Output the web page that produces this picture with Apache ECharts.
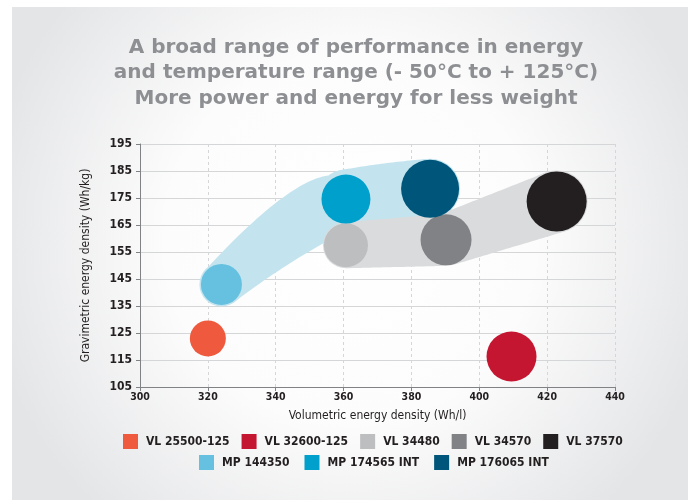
<!DOCTYPE html>
<html>
<head>
<meta charset="utf-8">
<script src="https://cdn.jsdelivr.net/npm/echarts@6/dist/echarts.min.js"></script>
<style>
  html, body { margin: 0; padding: 0; background: #ffffff; }
  #chart { width: 692px; height: 500px; }
</style>
</head>
<body>
<div id="chart"></div>
<script>
// ---- data ----
const products = ['VL 25500-125', 'VL 32600-125', 'VL 34480', 'VL 34570', 'VL 37570', 'MP 144350', 'MP 174565 INT', 'MP 176065 INT'];
const volumetric = [320, 409.5, 360.7, 390.2, 422.8, 324, 360.7, 385.5];      // Wh/l
const gravimetric = [123, 116.3, 157.5, 159.5, 173.7, 143, 174.6, 178.4];     // Wh/kg
const bubbleSize = [36, 50, 44, 51, 60, 41, 49, 58];                          // relative bubble size
const legendRow1 = ['VL 25500-125', 'VL 32600-125', 'VL 34480', 'VL 34570', 'VL 37570'];
const legendRow2 = ['MP 144350', 'MP 174565 INT', 'MP 176065 INT'];
const mpFamily = ['MP 144350', 'MP 174565 INT', 'MP 176065 INT'];
const vlFamily = ['VL 34480', 'VL 34570', 'VL 37570'];
const titleLines = ['A broad range of performance in energy', 'and temperature range (- 50°C to + 125°C)', 'More power and energy for less weight'];
const xName = 'Volumetric energy density (Wh/l)';
const yName = 'Gravimetric energy density (Wh/kg)';

// ---- styles ----
const colors = {
  'VL 25500-125': '#EF5A3F',
  'VL 32600-125': '#C51631',
  'VL 34480': '#BCBEC0',
  'VL 34570': '#808285',
  'VL 37570': '#231F20',
  'MP 144350': '#65C1DF',
  'MP 174565 INT': '#00A0CC',
  'MP 176065 INT': '#00567A'
};
const condensed = '"DejaVu Sans Condensed", "DejaVu Sans", sans-serif';

// band outline: per segment, [top control offset (normal, along), bottom control offset (normal, along)]
function bandRender(members, pads, bends, color) {
  return function (params, api) {
    if (params.dataIndex !== 0) return null;
    const nodes = members.map(function (name, k) {
      const i = products.indexOf(name);
      const p = api.coord([volumetric[i], gravimetric[i]]);
      return { x: p[0], y: p[1], r: bubbleSize[i] / 2 + pads[k] };
    });
    const children = [];
    nodes.forEach(function (n) {
      children.push({ type: 'circle', shape: { cx: n.x, cy: n.y, r: n.r }, style: { fill: color } });
    });
    for (let k = 0; k < nodes.length - 1; k++) {
      const a = nodes[k], b = nodes[k + 1];
      const dx = b.x - a.x, dy = b.y - a.y;
      const d = Math.hypot(dx, dy);
      const th = Math.atan2(dy, dx);
      const al = Math.acos((a.r - b.r) / d);
      const nx = Math.cos(th - Math.PI / 2), ny = Math.sin(th - Math.PI / 2);
      const tx = Math.cos(th), ty = Math.sin(th);
      const edge = function (s, off) {
        const phi = th + s * al;
        const p1 = [a.x + a.r * Math.cos(phi), a.y + a.r * Math.sin(phi)];
        const p2 = [b.x + b.r * Math.cos(phi), b.y + b.r * Math.sin(phi)];
        const c = [(p1[0] + p2[0]) / 2 + off[0] * nx + off[1] * tx, (p1[1] + p2[1]) / 2 + off[0] * ny + off[1] * ty];
        const pts = [];
        const N = 30;
        for (let t = 0; t <= N; t++) {
          const u = t / N;
          pts.push([
            (1 - u) * (1 - u) * p1[0] + 2 * u * (1 - u) * c[0] + u * u * p2[0],
            (1 - u) * (1 - u) * p1[1] + 2 * u * (1 - u) * c[1] + u * u * p2[1]
          ]);
        }
        return pts;
      };
      const top = edge(-1, bends[k][0]);
      const bottom = edge(1, bends[k][1]).reverse();
      children.push({ type: 'polygon', shape: { points: top.concat(bottom) }, style: { fill: color } });
    }
    return { type: 'group', children: children };
  };
}

const series = [];
series.push({
  type: 'custom',
  name: 'mpBand',
  z: 1,
  silent: true,
  renderItem: bandRender(mpFamily, [1.5, 5, 1], [[[22, 40], [8, 10]], [[2, 0], [0, 0]]], '#C3E4EF'),
  data: [[volumetric[products.indexOf(mpFamily[0])], gravimetric[products.indexOf(mpFamily[0])]]]
});
series.push({
  type: 'custom',
  name: 'vlBand',
  z: 1.5,
  silent: true,
  renderItem: bandRender(vlFamily, [1, 0.5, 1], [[[0, 0], [0, 0]], [[0, 0], [0, 0]]], '#DADBDC'),
  data: [[volumetric[products.indexOf(vlFamily[0])], gravimetric[products.indexOf(vlFamily[0])]]]
});
products.forEach(function (name, i) {
  series.push({
    type: 'scatter',
    name: name,
    z: 3,
    data: [[volumetric[i], gravimetric[i], bubbleSize[i]]],
    symbolSize: function (v) { return v[2]; },
    itemStyle: { color: colors[name], opacity: 1 },
    emphasis: { disabled: true }
  });
});

const legendCommon = {
  orient: 'horizontal',
  icon: 'rect',
  itemWidth: 15,
  itemHeight: 15,
  padding: 0,
  selectedMode: false,
  textStyle: { fontFamily: condensed, fontWeight: 'bold', fontSize: 12, color: '#231F20', padding: [0, 0, 0, 3] }
};

const chart = echarts.init(document.getElementById('chart'), null, { renderer: 'canvas' });
chart.setOption({
  animation: false,
  backgroundColor: '#ffffff',
  graphic: {
    elements: [{
      type: 'rect',
      z: -100,
      silent: true,
      shape: { x: 12, y: 7, width: 676, height: 493 },
      style: {
        fill: {
          type: 'radial', x: 0.5, y: 0.47, r: 0.75,
          colorStops: [
            { offset: 0, color: '#ffffff' },
            { offset: 0.5, color: '#fcfcfc' },
            { offset: 1, color: '#e4e5e7' }
          ]
        }
      }
    }]
  },
  title: {
    text: titleLines.join('\n'),
    left: 351,
    top: 30,
    textAlign: 'center',
    textStyle: {
      fontFamily: '"DejaVu Sans", sans-serif',
      fontWeight: 'bold',
      fontSize: 20,
      lineHeight: 25.5,
      color: '#8D8F92'
    }
  },
  legend: [
    Object.assign({}, legendCommon, { data: legendRow1, left: 123, top: 434, itemGap: 12 }),
    Object.assign({}, legendCommon, { data: legendRow2, left: 199, top: 455, itemGap: 15 })
  ],
  grid: { left: 140, right: 77, top: 144, bottom: 113, containLabel: false },
  xAxis: {
    type: 'value',
    min: 300, max: 440, interval: 20,
    name: xName,
    nameLocation: 'middle',
    nameGap: 23,
    nameTextStyle: { fontFamily: condensed, fontSize: 12, color: '#231F20' },
    axisLine: { show: true, lineStyle: { color: '#808285', width: 1 } },
    axisTick: { show: true, length: 4, lineStyle: { color: '#808285' } },
    axisLabel: { fontFamily: condensed, fontWeight: 'bold', fontSize: 10.5, color: '#231F20', margin: 5 },
    splitLine: { show: true, lineStyle: { color: '#D4D6D8', type: [3, 3], width: 1 } }
  },
  yAxis: {
    type: 'value',
    min: 105, max: 195, interval: 10,
    name: yName,
    nameLocation: 'middle',
    nameGap: 48,
    nameRotate: 90,
    nameTextStyle: { fontFamily: condensed, fontSize: 12, color: '#231F20' },
    axisLine: { show: true, lineStyle: { color: '#808285', width: 1 } },
    axisTick: { show: true, length: 4, lineStyle: { color: '#808285' } },
    axisLabel: { fontFamily: condensed, fontWeight: 'bold', fontSize: 12, color: '#231F20', margin: 8 },
    splitLine: { show: true, lineStyle: { color: '#D4D6D8', width: 1 } }
  },
  series: series
});
</script>
</body>
</html>
